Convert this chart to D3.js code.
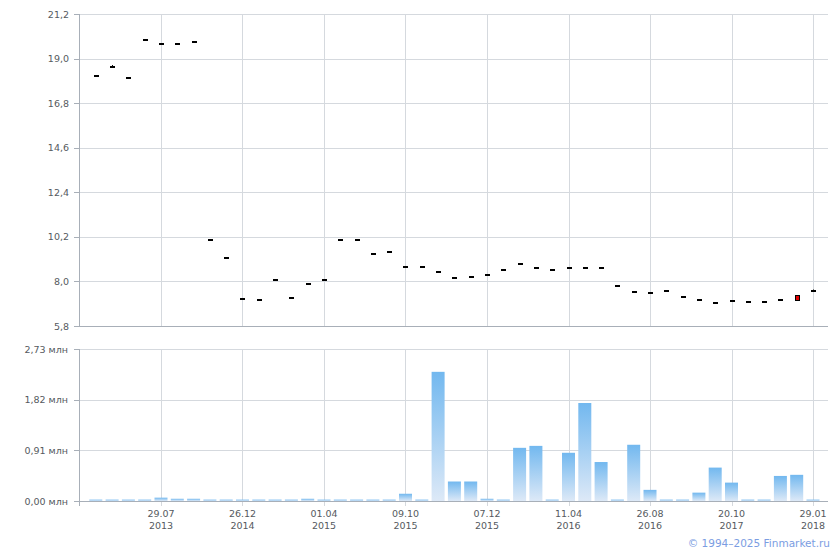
<!DOCTYPE html>
<html><head><meta charset="utf-8">
<script src="https://cdn.jsdelivr.net/npm/d3@7"></script>
<style>body{margin:0;background:#fff;} svg text{font-family:"DejaVu Sans",sans-serif;}</style>
</head><body>
<svg id="chart" width="840" height="550"></svg>
<script>
const categories = d3.range(1, 46).map(String);
const openVals = [18.13,18.55,18.04,19.93,19.73,19.73,19.83,10.05,9.17,7.13,7.08,8.06,7.18,7.85,8.06,10.05,10.05,9.33,9.44,8.69,8.69,8.49,8.15,8.20,8.34,8.56,8.84,8.64,8.56,8.64,8.64,8.64,7.75,7.46,7.41,7.51,7.21,7.07,6.92,7.02,6.97,6.97,7.07,7.34,7.51];
const closeVals = [18.13,18.58,18.04,19.93,19.73,19.73,19.83,10.05,9.17,7.13,7.08,8.06,7.18,7.85,8.06,10.05,10.05,9.33,9.44,8.69,8.69,8.49,8.15,8.20,8.34,8.56,8.84,8.64,8.56,8.64,8.64,8.64,7.75,7.46,7.41,7.51,7.21,7.07,6.92,7.02,6.97,6.97,7.07,7.09,7.51];
const highVals = [18.13,18.68,18.04,19.93,19.73,19.73,19.83,10.05,9.17,7.13,7.08,8.06,7.18,7.85,8.06,10.05,10.05,9.33,9.44,8.69,8.69,8.49,8.15,8.20,8.34,8.56,8.84,8.64,8.56,8.64,8.64,8.64,7.75,7.46,7.41,7.51,7.21,7.07,6.92,7.02,6.97,6.97,7.07,7.34,7.60];
const lowVals = [18.13,18.55,18.04,19.93,19.73,19.73,19.83,10.05,9.17,7.13,7.08,8.06,7.18,7.85,8.06,10.05,10.05,9.33,9.44,8.69,8.69,8.49,8.15,8.20,8.34,8.56,8.84,8.64,8.56,8.64,8.64,8.64,7.75,7.46,7.41,7.51,7.21,7.07,6.92,7.02,6.97,6.97,7.07,7.09,7.51];
const volumes = [0.025,0.025,0.025,0.025,0.06,0.04,0.04,0.025,0.025,0.025,0.025,0.025,0.025,0.04,0.025,0.025,0.025,0.025,0.025,0.13,0.025,2.32,0.35,0.35,0.04,0.025,0.955,0.99,0.025,0.866,1.76,0.70,0.025,1.01,0.20,0.025,0.025,0.15,0.60,0.33,0.025,0.025,0.45,0.47,0.025];
const priceTicks = [5.8,8.0,10.2,12.4,14.6,16.8,19.0,21.2];
const volumeTicks = [0,0.91,1.82,2.73];
const tickCategories = ["5","10","15","20","25","30","35","40","45"];
const tickDates = ["29.07","26.12","01.04","09.10","07.12","11.04","26.08","20.10","29.01"];
const tickYears = ["2013","2014","2015","2015","2015","2016","2016","2017","2018"];

const svg = d3.select("#chart");
const L = 79, R = 828;
const x = d3.scalePoint().domain(categories).range([79.5, 829.3]).padding(1);
const yP = d3.scaleLinear().domain([5.8, 21.2]).range([326, 14]);
const yV = d3.scaleLinear().domain([0, 2.73]).range([501, 349]);
const gridC = "#d5d9de", axisC = "#a8afb8", textC = "#555a60";

const defs = svg.append("defs");
const grad = defs.append("linearGradient").attr("id","bg").attr("x1",0).attr("y1",0).attr("x2",0).attr("y2",1);
grad.append("stop").attr("offset","0%").attr("stop-color","#72b8ef");
grad.append("stop").attr("offset","100%").attr("stop-color","#dde9f7");

const comma = s => s.replace(".", ",");

// Price grid
const gP = svg.append("g");
gP.selectAll("line.h").data(priceTicks).join("line")
  .attr("x1", L - 5).attr("x2", R).attr("y1", d => Math.round(yP(d)) + 0.5).attr("y2", d => Math.round(yP(d)) + 0.5)
  .attr("stroke", (d,i) => i === 0 ? axisC : gridC);
gP.selectAll("line.hl").data(priceTicks).join("line")
  .attr("x1", L - 5).attr("x2", L).attr("y1", d => Math.round(yP(d)) + 0.5).attr("y2", d => Math.round(yP(d)) + 0.5)
  .attr("stroke", axisC);
gP.selectAll("line.v").data(tickCategories).join("line")
  .attr("x1", d => Math.round(x(d)) + 0.5).attr("x2", d => Math.round(x(d)) + 0.5)
  .attr("y1", yP(21.2)).attr("y2", yP(5.8) + 0).attr("stroke", gridC);
gP.append("line").attr("x1", L + 0.5).attr("x2", L + 0.5).attr("y1", yP(21.2)).attr("y2", yP(5.8)).attr("stroke", axisC);
gP.selectAll("text").data(priceTicks).join("text")
  .attr("x", 69).attr("y", d => yP(d) + 3.5).attr("text-anchor", "end")
  .attr("font-size", "9.5px").attr("fill", textC).text(d => comma(d3.format(".1f")(d)));

// Volume grid
const gV = svg.append("g");
gV.selectAll("line.h").data(volumeTicks).join("line")
  .attr("x1", L - 5).attr("x2", R).attr("y1", d => Math.round(yV(d)) + 0.5).attr("y2", d => Math.round(yV(d)) + 0.5)
  .attr("stroke", gridC);
gV.selectAll("line.v").data(tickCategories).join("line")
  .attr("x1", d => Math.round(x(d)) + 0.5).attr("x2", d => Math.round(x(d)) + 0.5)
  .attr("y1", yV(2.73)).attr("y2", yV(0) + 5).attr("stroke", gridC);
gV.selectAll("line.hl").data(volumeTicks).join("line")
  .attr("x1", L - 5).attr("x2", L).attr("y1", d => Math.round(yV(d)) + 0.5).attr("y2", d => Math.round(yV(d)) + 0.5)
  .attr("stroke", axisC);
gV.append("line").attr("x1", L + 0.5).attr("x2", L + 0.5).attr("y1", yV(2.73)).attr("y2", yV(0) + 5).attr("stroke", axisC);
gV.selectAll("text.vl").data(volumeTicks).join("text")
  .attr("x", 68).attr("y", d => yV(d) + 3.5).attr("text-anchor", "end")
  .attr("font-size", "9.5px").attr("fill", textC).text(d => comma(d3.format(".2f")(d)) + " млн");

// Volume bars
svg.append("g").selectAll("rect").data(volumes).join("rect")
  .attr("x", (d,i) => x(categories[i]) - 6.5).attr("width", 13)
  .attr("y", d => yV(d)).attr("height", d => yV(0) - yV(d))
  .attr("fill", "url(#bg)");

// volume bottom axis line
svg.append("line").attr("x1", L).attr("x2", R).attr("y1", Math.round(yV(0)) + 0.5).attr("y2", Math.round(yV(0)) + 0.5).attr("stroke", axisC);

// X labels
const gX = svg.append("g");
tickCategories.forEach((c, i) => {
  gX.append("text").attr("x", x(c)).attr("y", 517).attr("text-anchor", "middle")
    .attr("font-size", "9.5px").attr("fill", textC).text(tickDates[i]);
  gX.append("text").attr("x", x(c)).attr("y", 528.5).attr("text-anchor", "middle")
    .attr("font-size", "9.5px").attr("fill", textC).text(tickYears[i]);
});

// Candles
const gC = svg.append("g");
categories.forEach((c, i) => {
  const cx = x(c);
  const o = openVals[i], cl = closeVals[i];
  if (highVals[i] > Math.max(o, cl) || lowVals[i] < Math.min(o, cl)) {
    gC.append("line").attr("x1", Math.round(cx) + 0.5).attr("x2", Math.round(cx) + 0.5)
      .attr("y1", yP(highVals[i])).attr("y2", yP(lowVals[i])).attr("stroke", "#000");
  }
  const top = yP(Math.max(o, cl)), bot = yP(Math.min(o, cl));
  if (bot - top < 2.5) {
    gC.append("rect").attr("x", Math.round(cx) - 2).attr("width", 5)
      .attr("y", Math.round((top + bot) / 2) - 1).attr("height", 2).attr("fill", "#000");
  } else {
    gC.append("rect").attr("x", Math.round(cx) - 2 + 0.5).attr("width", 4)
      .attr("y", Math.round(top) + 0.5).attr("height", Math.round(bot - top))
      .attr("fill", cl < o ? "#e00000" : "#ffffff").attr("stroke", "#000");
  }
});

// price bottom axis line
svg.append("line").attr("x1", L).attr("x2", R).attr("y1", Math.round(yP(5.8)) + 0.5).attr("y2", Math.round(yP(5.8)) + 0.5).attr("stroke", axisC);

svg.append("text").attr("x", 830).attr("y", 546.5).attr("text-anchor", "end")
  .attr("font-size", "10.5px").attr("fill", "#7b9de2").text("© 1994–2025 Finmarket.ru");
</script>
</body></html>
